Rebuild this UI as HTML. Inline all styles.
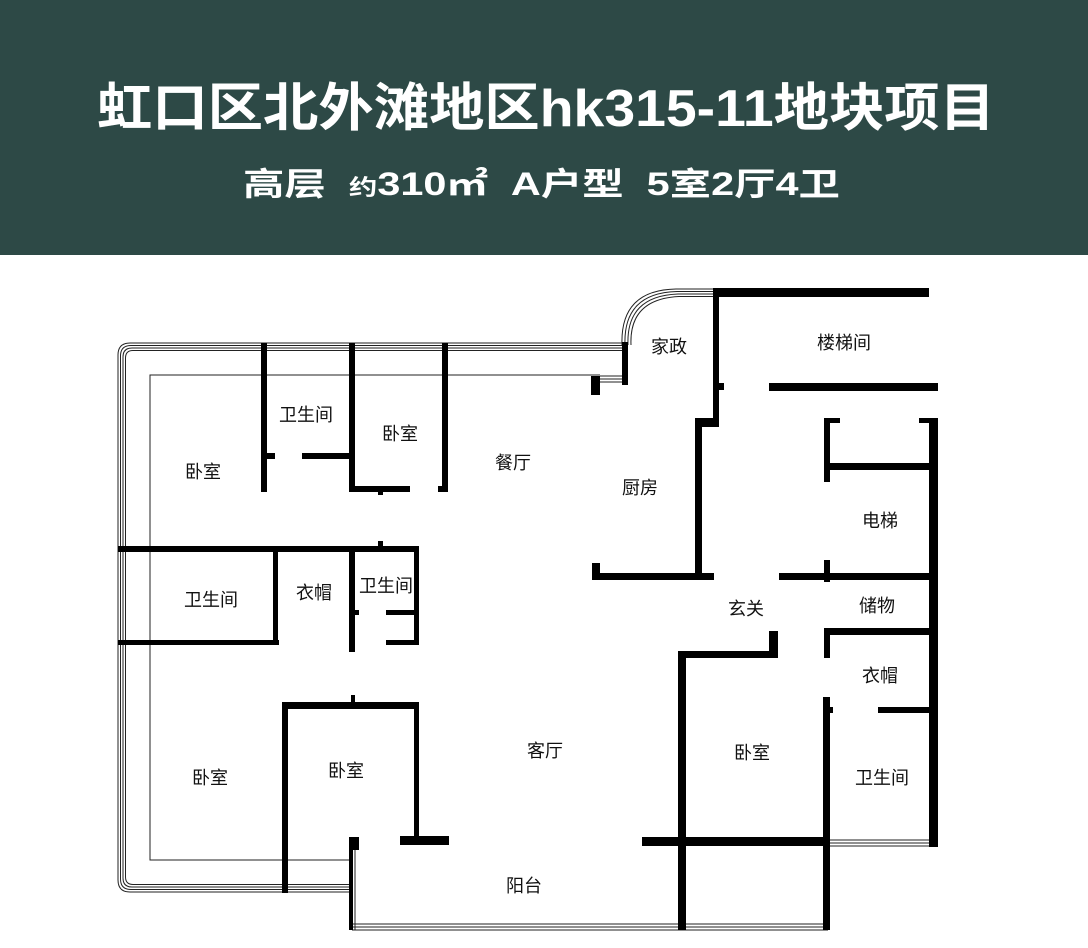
<!DOCTYPE html>
<html><head><meta charset="utf-8"><style>
html,body{margin:0;padding:0;background:#fff;width:1088px;height:948px;overflow:hidden}
svg{display:block}
.t{font-family:"Liberation Sans","Noto Sans CJK SC",sans-serif;fill:#fff;font-weight:bold}
.l{font-family:"Liberation Sans","Noto Sans CJK SC",sans-serif;fill:#111;font-size:18px;text-anchor:middle;dominant-baseline:central}
</style></head><body>
<svg width="1088" height="948" viewBox="0 0 1088 948" xmlns="http://www.w3.org/2000/svg">
<rect x="0" y="0" width="1088" height="255" fill="#2d4946"/>
<text class="t" x="97" y="126" font-size="52" textLength="898" lengthAdjust="spacingAndGlyphs">虹口区北外滩地区hk315-11地块项目</text>
<text class="t" x="243" y="195" font-size="32" textLength="597" lengthAdjust="spacingAndGlyphs" xml:space="preserve">高层  <tspan font-size="22">约</tspan>310㎡  A户型  5室2厅4卫</text>

<g fill="none" stroke="#222" stroke-width="1">
<!-- outer window frame lines -->
<path d="M622 343 H130 Q118 343 118 355 V880 Q118 892 130 892 H352"/>
<path d="M622 345.5 H131 Q120.5 345.5 120.5 356 V879 Q120.5 889.5 131 889.5 H352"/>
<path d="M622 348 H132 Q123 348 123 357 V878 Q123 887 132 887 H352"/>
<path d="M622 350.5 H133 Q125.5 350.5 125.5 358 V877 Q125.5 884.5 133 884.5 H352"/>
<!-- inner thin -->
<path d="M600 375 H150 V860 H352"/>
<!-- curved corner -->
<path d="M622 345 Q620 290 676 289 H713"/>
<path d="M625 345 Q623 293 677 291.5 H713"/>
<path d="M628 345 Q626 296 678 294 H713"/>
<path d="M631 345 Q629 299 679 296.5 H713"/>
<path d="M600 376 H624 M600 379 H624 M600 382 H624"/>
<!-- balcony bottom -->
<path d="M352 924 H828 M352 927 H828 M352 930 H828"/>
<path d="M352 845 V930 M355 845 V930"/>
<!-- right bathroom bottom -->
<path d="M828 840 H930 M828 843 H930 M828 846 H930"/>
</g>

<g fill="#000">
<!-- top left walls -->
<rect x="261" y="343" width="6" height="149"/>
<rect x="261" y="453" width="14" height="6"/>
<rect x="302" y="453" width="52" height="6"/>
<rect x="349" y="343" width="6" height="149"/>
<rect x="349" y="486" width="61" height="6"/>
<rect x="378" y="486" width="5" height="9"/>
<rect x="442" y="343" width="6" height="149"/>
<rect x="438" y="486" width="9" height="6"/>
<rect x="591" y="376" width="9" height="19"/>
<rect x="622" y="342" width="6" height="43"/>
<!-- middle horizontal -->
<rect x="118" y="546" width="301" height="6"/>
<rect x="378" y="541" width="5" height="7"/>
<rect x="273" y="546" width="5" height="97"/>
<rect x="349" y="546" width="6" height="106"/>
<rect x="349" y="610" width="10" height="5"/>
<rect x="386" y="610" width="32" height="5"/>
<rect x="386" y="640" width="32" height="5"/>
<rect x="414" y="546" width="5" height="99"/>
<rect x="118" y="640" width="161" height="5"/>
<!-- kitchen -->
<rect x="713" y="288" width="216" height="9"/>
<rect x="713" y="288" width="6" height="139"/>
<rect x="717" y="383" width="7" height="7"/>
<rect x="695" y="418" width="24" height="9"/>
<rect x="695" y="418" width="7" height="162"/>
<rect x="592" y="573" width="122" height="7"/>
<rect x="592" y="563" width="8" height="17"/>
<!-- stair/elevator -->
<rect x="769" y="383" width="169" height="8"/>
<rect x="824" y="418" width="6" height="64"/>
<rect x="824" y="418" width="16" height="5"/>
<rect x="919" y="418" width="19" height="5"/>
<rect x="830" y="463" width="99" height="7"/>
<rect x="929" y="418" width="9" height="429"/>
<rect x="779" y="573" width="150" height="7"/>
<rect x="824" y="560" width="6" height="22"/>
<rect x="824" y="628" width="105" height="7"/>
<rect x="824" y="628" width="6" height="30"/>
<!-- foyer / right bedroom -->
<rect x="769" y="631" width="9" height="26"/>
<rect x="678" y="651" width="100" height="7"/>
<rect x="678" y="651" width="8" height="279"/>
<rect x="823" y="697" width="7" height="233"/>
<rect x="823" y="707" width="10" height="6"/>
<rect x="878" y="707" width="51" height="6"/>
<rect x="642" y="837" width="187" height="9"/>
<!-- lower left bedroom -->
<rect x="282" y="702" width="137" height="7"/>
<rect x="351" y="695" width="4" height="8"/>
<rect x="282" y="702" width="6" height="191"/>
<rect x="414" y="702" width="5" height="138"/>
<rect x="400" y="836" width="49" height="9"/>
<rect x="349" y="837" width="10" height="13"/>
<rect x="349" y="837" width="4" height="93"/>
</g>

<text class="l" x="203" y="472">卧室</text>
<text class="l" x="306" y="415">卫生间</text>
<text class="l" x="400" y="434">卧室</text>
<text class="l" x="513" y="463">餐厅</text>
<text class="l" x="669" y="347">家政</text>
<text class="l" x="844" y="343">楼梯间</text>
<text class="l" x="640" y="488">厨房</text>
<text class="l" x="880" y="521">电梯</text>
<text class="l" x="211" y="600">卫生间</text>
<text class="l" x="314" y="593">衣帽</text>
<text class="l" x="386" y="586">卫生间</text>
<text class="l" x="746" y="609">玄关</text>
<text class="l" x="877" y="606">储物</text>
<text class="l" x="880" y="676">衣帽</text>
<text class="l" x="752" y="753">卧室</text>
<text class="l" x="545" y="751">客厅</text>
<text class="l" x="210" y="778">卧室</text>
<text class="l" x="346" y="771">卧室</text>
<text class="l" x="882" y="778">卫生间</text>
<text class="l" x="524" y="886">阳台</text>
</svg>
</body></html>
